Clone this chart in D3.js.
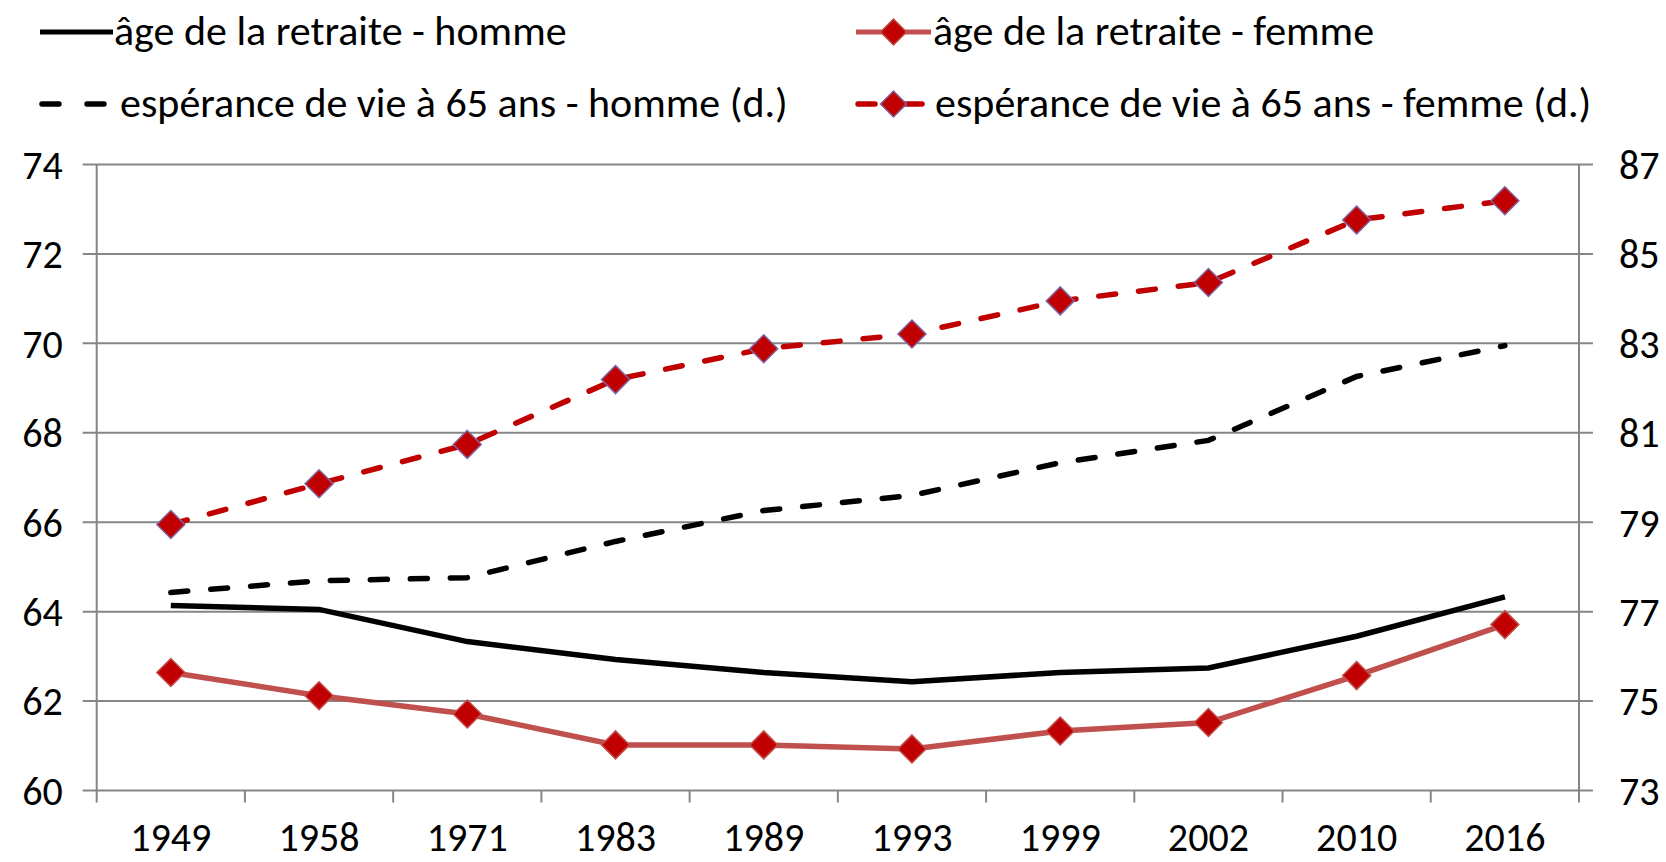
<!DOCTYPE html>
<html>
<head>
<meta charset="utf-8">
<script src="https://cdnjs.cloudflare.com/ajax/libs/d3/7.8.5/d3.min.js"></script>
<style>
  body { margin: 0; background: #fff; }
  text { font-family: "Carlito", "Lato", sans-serif; fill: #000; }
</style>
</head>
<body>
<div id="chart"></div>
<script>
// data
var years = ["1949", "1958", "1971", "1983", "1989", "1993", "1999", "2002", "2010", "2016"];
var retraiteHomme = [64.14, 64.05, 63.33, 62.93, 62.64, 62.43, 62.64, 62.74, 63.45, 64.33];
var retraiteFemme = [62.64, 62.12, 61.71, 61.02, 61.02, 60.93, 61.33, 61.52, 62.57, 63.71];
var esperanceHomme = [77.43, 77.69, 77.76, 78.57, 79.26, 79.6, 80.33, 80.83, 82.26, 82.95];
var esperanceFemme = [78.95, 79.86, 80.74, 82.19, 82.88, 83.21, 83.95, 84.36, 85.76, 86.19];
var leftTicks = [60, 62, 64, 66, 68, 70, 72, 74];
var rightTicks = [73, 75, 77, 79, 81, 83, 85, 87];
var legendLabels = ["âge de la retraite - homme", "âge de la retraite - femme",
                    "espérance de vie à 65 ans - homme (d.)", "espérance de vie à 65 ans - femme (d.)"];

var W = 1666, H = 862;
var margin = {top: 164.5, right: 87, bottom: 71.5, left: 96.7};
var width = W - margin.left - margin.right,
    height = H - margin.top - margin.bottom;

var gridColor = "#868686";
var tickFont = "40px", legendFont = "42px";

var svg = d3.select("#chart").append("svg")
    .attr("width", W)
    .attr("height", H);

var g = svg.append("g")
    .attr("transform", "translate(" + margin.left + "," + margin.top + ")");

var x = d3.scaleBand().domain(years).range([0, width]);
var yL = d3.scaleLinear().domain([60, 74]).range([height, 0]);
var yR = d3.scaleLinear().domain([73, 87]).range([height, 0]);

function cx(i) { return x(years[i]) + x.bandwidth() / 2; }

// gridlines (stick out a bit past both axes)
g.selectAll("line.grid")
    .data(leftTicks)
  .enter().append("line")
    .attr("class", "grid")
    .attr("x1", -14)
    .attr("x2", width + 14)
    .attr("y1", function(d) { return yL(d); })
    .attr("y2", function(d) { return yL(d); })
    .attr("stroke", gridColor)
    .attr("stroke-width", 2);

// left and right axis lines
g.append("line")
    .attr("x1", 0).attr("x2", 0)
    .attr("y1", 0).attr("y2", height + 12)
    .attr("stroke", gridColor).attr("stroke-width", 2);
g.append("line")
    .attr("x1", width).attr("x2", width)
    .attr("y1", 0).attr("y2", height + 12)
    .attr("stroke", gridColor).attr("stroke-width", 2);

// x tick marks between categories
g.selectAll("line.xtick")
    .data(years.slice(1))
  .enter().append("line")
    .attr("class", "xtick")
    .attr("x1", function(d) { return x(d); })
    .attr("x2", function(d) { return x(d); })
    .attr("y1", height)
    .attr("y2", height + 12)
    .attr("stroke", gridColor)
    .attr("stroke-width", 2);

// tick labels
g.selectAll("text.ylab")
    .data(leftTicks)
  .enter().append("text")
    .attr("class", "ylab")
    .attr("x", -34)
    .attr("y", function(d) { return yL(d); })
    .attr("dy", "0.36em")
    .attr("text-anchor", "end")
    .style("font-size", tickFont)
    .text(function(d) { return d; });

g.selectAll("text.yrlab")
    .data(rightTicks)
  .enter().append("text")
    .attr("class", "yrlab")
    .attr("x", width + 40)
    .attr("y", function(d) { return yR(d); })
    .attr("dy", "0.36em")
    .attr("text-anchor", "start")
    .style("font-size", tickFont)
    .text(function(d) { return d; });

g.selectAll("text.xlab")
    .data(years)
  .enter().append("text")
    .attr("class", "xlab")
    .attr("x", function(d) { return x(d) + x.bandwidth() / 2; })
    .attr("y", height + 60)
    .attr("text-anchor", "middle")
    .style("font-size", tickFont)
    .text(function(d) { return d; });

// series
var diamond = function(r) { return "M0," + (-r) + "L" + r + ",0L0," + r + "L" + (-r) + ",0Z"; };

var lineL = d3.line()
    .x(function(d, i) { return cx(i); })
    .y(function(d) { return yL(d); });
var lineR = d3.line()
    .x(function(d, i) { return cx(i); })
    .y(function(d) { return yR(d); });

g.append("path")
    .datum(esperanceHomme)
    .attr("d", lineR)
    .attr("fill", "none")
    .attr("stroke", "#000")
    .attr("stroke-width", 5.5)
    .attr("stroke-linecap", "round")
    .attr("stroke-dasharray", "17,23");

g.append("path")
    .datum(esperanceFemme)
    .attr("d", lineR)
    .attr("fill", "none")
    .attr("stroke", "#C00000")
    .attr("stroke-width", 5.5)
    .attr("stroke-linecap", "round")
    .attr("stroke-dasharray", "17,23");

g.append("path")
    .datum(retraiteHomme)
    .attr("d", lineL)
    .attr("fill", "none")
    .attr("stroke", "#000")
    .attr("stroke-width", 5.5);

g.append("path")
    .datum(retraiteFemme)
    .attr("d", lineL)
    .attr("fill", "none")
    .attr("stroke", "#C0504D")
    .attr("stroke-width", 5.5);

g.selectAll("path.mkF")
    .data(retraiteFemme)
  .enter().append("path")
    .attr("class", "mkF")
    .attr("d", diamond(14))
    .attr("transform", function(d, i) { return "translate(" + cx(i) + "," + yL(d) + ")"; })
    .attr("fill", "#C00000")
    .attr("stroke", "#C0504D")
    .attr("stroke-width", 1.5);

g.selectAll("path.mkE")
    .data(esperanceFemme)
  .enter().append("path")
    .attr("class", "mkE")
    .attr("d", diamond(14))
    .attr("transform", function(d, i) { return "translate(" + cx(i) + "," + yR(d) + ")"; })
    .attr("fill", "#C00000")
    .attr("stroke", "#8064A2")
    .attr("stroke-width", 1.5);

// legend
var leg = svg.append("g");

// homme - retraite
leg.append("line")
    .attr("x1", 40).attr("x2", 113).attr("y1", 32).attr("y2", 32)
    .attr("stroke", "#000").attr("stroke-width", 5);
leg.append("text")
    .attr("x", 114).attr("y", 45)
    .style("font-size", legendFont)
    .text(legendLabels[0]);

// femme - retraite
leg.append("line")
    .attr("x1", 856).attr("x2", 931).attr("y1", 32).attr("y2", 32)
    .attr("stroke", "#C0504D").attr("stroke-width", 5);
leg.append("path")
    .attr("d", diamond(13))
    .attr("transform", "translate(893.5,32)")
    .attr("fill", "#C00000").attr("stroke", "#C0504D").attr("stroke-width", 1.5);
leg.append("text")
    .attr("x", 933).attr("y", 45)
    .style("font-size", legendFont)
    .text(legendLabels[1]);

// homme - esperance
leg.append("line")
    .attr("x1", 42).attr("x2", 108).attr("y1", 104).attr("y2", 104)
    .attr("stroke", "#000").attr("stroke-width", 5.5)
    .attr("stroke-linecap", "round")
    .attr("stroke-dasharray", "17,28");
leg.append("text")
    .attr("x", 120).attr("y", 117)
    .style("font-size", legendFont)
    .text(legendLabels[2]);

// femme - esperance
leg.append("line")
    .attr("x1", 858).attr("x2", 926).attr("y1", 104).attr("y2", 104)
    .attr("stroke", "#C00000").attr("stroke-width", 5.5)
    .attr("stroke-linecap", "round")
    .attr("stroke-dasharray", "17,30");
leg.append("path")
    .attr("d", diamond(13))
    .attr("transform", "translate(893.5,104)")
    .attr("fill", "#C00000").attr("stroke", "#8064A2").attr("stroke-width", 1.5);
leg.append("text")
    .attr("x", 935).attr("y", 117)
    .style("font-size", legendFont)
    .text(legendLabels[3]);
</script>
</body>
</html>
